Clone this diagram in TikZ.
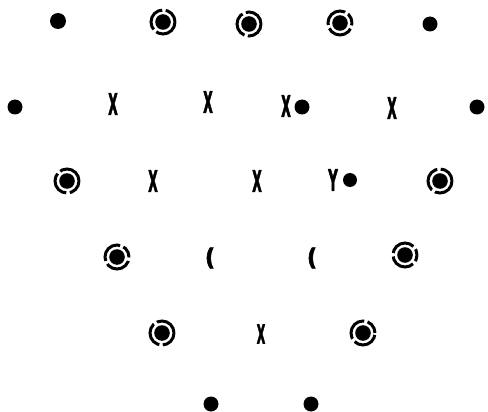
\documentclass[tikz,border=0pt]{standalone}
\usepackage{fontspec}
\newfontfamily\chromfont[FakeBold=3]{DejaVu Sans}
\begin{document}
\begin{tikzpicture}[x=1pt,y=-1pt,
  dotb/.style={circle,fill=black,inner sep=0pt,minimum size=16pt},
  ringb/.style={circle,draw=black,line width=3pt,inner sep=0pt,minimum size=24pt,
     dash pattern=on 26pt off 3.5pt,
     path picture={\fill[black] (path picture bounding box.center) circle (7.8pt);}},
  chrom/.style={inner sep=0pt,font=\fontsize{29}{29}\selectfont\chromfont\bfseries},
]
\useasboundingbox (0,0) rectangle (488,412);
% row 1
\node[dotb]  (a1) at (58,21) {};
\node[ringb, dash phase=10pt] (a2) at (163,22) {};
\node[ringb, dash phase=4pt] (a3) at (249,24) {};
\node[ringb, dash phase=16pt] (a4) at (340,23) {};
\node[dotb, minimum size=15pt]  (a5) at (430,24) {};
% row 2
\node[dotb, minimum size=15pt]  (b1) at (15,107) {};
\node[chrom] (b2) at (113,104) {\scalebox{0.42}[1]{X}};
\node[chrom] (b3) at (208,102) {\scalebox{0.42}[1]{X}};
\node[chrom] (b4) at (286,106) {\scalebox{0.42}[1]{X}};
\node[dotb, minimum size=15pt]  (b5) at (302,107) {};
\node[chrom] (b6) at (392,108) {\scalebox{0.42}[1]{X}};
\node[dotb, minimum size=15pt]  (b7) at (477,107) {};
% row 3
\node[ringb, dash phase=0pt] (c1) at (67,181) {};
\node[chrom] (c2) at (153,181) {\scalebox{0.42}[1]{X}};
\node[chrom] (c3) at (257,181) {\scalebox{0.42}[1]{X}};
\node[chrom] (c4) at (333,180) {\scalebox{0.45}[1]{Y}};
\node[dotb, minimum size=14pt]  (c5) at (350,180) {};
\node[ringb, dash phase=8pt] (c6) at (440,181) {};
% row 4
\node[ringb, dash phase=14pt] (d1) at (117,257) {};
\node[chrom] (d2) at (210,258) {\scalebox{0.75}[0.8]{(}};
\node[chrom] (d3) at (312,258) {\scalebox{0.75}[0.8]{(}};
\node[ringb, dash phase=20pt] (d4) at (405,255) {};
% row 5
\node[ringb, dash phase=2pt] (e1) at (162,333) {};
\node[chrom] (e2) at (261,334) {\scalebox{0.38}[0.9]{X}};
\node[ringb, dash phase=12pt] (e3) at (363,333) {};
% row 6
\node[dotb, minimum size=15pt]  (f1) at (211,404) {};
\node[dotb, minimum size=15pt]  (f2) at (311,404) {};
\end{tikzpicture}
\end{document}
